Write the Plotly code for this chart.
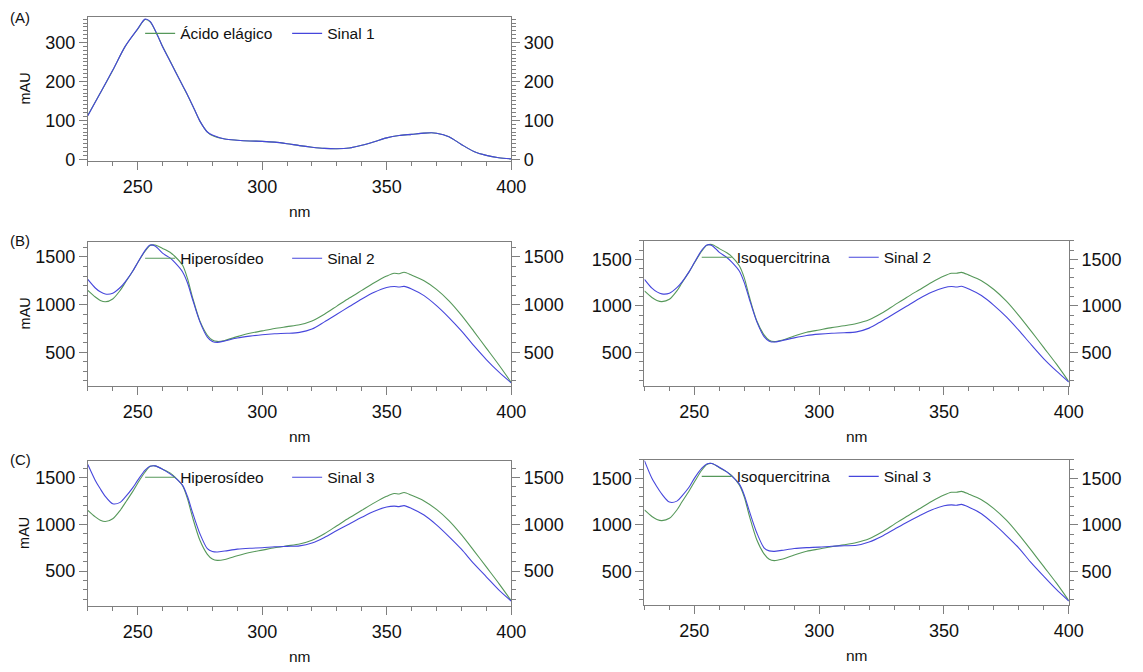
import plotly.graph_objects as go

# ---------------- data ----------------
WL_A = [230, 235, 240, 245, 250, 253, 255, 258, 260, 263, 265, 268, 270, 273, 275, 278,
        280, 285, 290, 295, 300, 305, 310, 315, 320, 325, 330, 335, 340, 345, 350, 355,
        360, 365, 368, 370, 375, 380, 385, 390, 395, 400]
ACIDO_ELAGICO = [113, 170, 228, 290, 334, 359, 353, 318, 290, 253, 228, 190, 165, 125, 98, 70,
                 61, 52, 49, 47, 46, 44, 40, 35, 31, 28, 27, 29, 36, 45, 55, 61,
                 64, 67, 68, 67, 58, 38, 20, 10, 4, 1]
SINAL_1 = [112, 170, 229, 290, 335, 360, 354, 318, 289, 252, 227, 190, 166, 125, 98, 70,
           62, 52, 49, 47, 46, 44, 40, 35, 31, 28, 27, 29, 36, 45, 55, 61,
           64, 67, 68, 67, 58, 38, 20, 10, 4, 1]

WL = [230, 233, 235, 237, 240, 243, 245, 248, 250, 253, 255, 257, 260, 263, 265, 268,
      270, 272, 275, 278, 280, 282, 285, 290, 295, 300, 305, 310, 315, 320, 325, 330,
      335, 340, 345, 350, 353, 355, 357, 360, 365, 370, 375, 380, 385, 390, 395, 400]

HIPEROSIDEO = [1150, 1080, 1045, 1030, 1060, 1150, 1230, 1350, 1440, 1560, 1620, 1625, 1590, 1550, 1505, 1415,
               1275, 1080, 830, 680, 630, 615, 625, 665, 700, 725, 750, 770, 790, 830, 900, 985,
               1070, 1150, 1230, 1300, 1330, 1325, 1340, 1310, 1250, 1160, 1040, 890, 720, 545, 370, 185]
SINAL_2_B1 = [1265, 1175, 1135, 1112, 1120, 1180, 1240, 1350, 1440, 1570, 1625, 1615, 1540, 1490, 1440, 1345,
              1230, 1060, 820, 660, 615, 605, 620, 650, 670, 685, 695, 700, 710, 745, 820, 900,
              980, 1060, 1130, 1180, 1190, 1185, 1192, 1165, 1095, 990, 865, 725, 570, 425, 295, 180]

ISOQUERCITRINA = [1160, 1090, 1058, 1045, 1070, 1160, 1245, 1370, 1460, 1590, 1650, 1660, 1615, 1570, 1530, 1430,
                  1300, 1100, 840, 685, 630, 615, 630, 675, 715, 740, 765, 785, 810, 850, 920, 1005,
                  1090, 1170, 1250, 1320, 1350, 1350, 1360, 1330, 1270, 1175, 1050, 895, 725, 550, 375, 185]
SINAL_2_B2 = [1285, 1190, 1150, 1128, 1135, 1195, 1255, 1370, 1465, 1600, 1655, 1650, 1575, 1520, 1470, 1375,
              1250, 1075, 830, 665, 620, 610, 625, 655, 680, 695, 705, 710, 720, 760, 835, 915,
              995, 1075, 1145, 1195, 1208, 1202, 1210, 1180, 1110, 1005, 880, 735, 580, 430, 300, 180]

SINAL_3_C1 = [1640, 1470, 1380, 1300, 1220, 1235, 1290, 1390, 1470, 1580, 1620, 1625, 1590, 1540, 1500, 1420,
              1300, 1130, 900, 740, 710, 705, 715, 735, 745, 750, 760, 765, 770, 800, 860, 935,
              1005, 1075, 1140, 1185, 1195, 1190, 1200, 1170, 1100, 995, 870, 735, 580, 440, 300, 180]
SINAL_3_C2 = [1690, 1500, 1410, 1330, 1245, 1255, 1310, 1410, 1500, 1610, 1655, 1660, 1620, 1570, 1525, 1440,
              1320, 1150, 915, 750, 720, 715, 725, 745, 755, 760, 770, 775, 780, 815, 875, 950,
              1025, 1095, 1160, 1205, 1215, 1210, 1220, 1190, 1120, 1010, 885, 750, 590, 445, 305, 180]

X_TICKS = [250, 300, 350, 400]
Y_TICKS_A = [0, 100, 200, 300]
Y_TICKS_BC = [500, 1000, 1500]

# ---------------- style ----------------
W, H = 1143, 672
GREEN = "#56985a"
BLUE = "#4646dc"
AXC = "#7f7f7f"
TXT = "#111111"
FONT = "Liberation Sans, Arial, sans-serif"


def px_x(p):
    return p / W


def px_y(p):
    return 1 - p / H


# panel boxes in pixels: (x0, x1, ytop, ybottom)
panels = [
    dict(box=(89, 518, 17, 163), yr=[-4, 366], ytk=Y_TICKS_A, ymin=10,
         g=(WL_A, ACIDO_ELAGICO, "Ácido elágico"), b=(WL_A, SINAL_1, "Sinal 1")),
    dict(box=(89, 518, 245, 391), yr=[150, 1660], ytk=Y_TICKS_BC, ymin=100,
         g=(WL, HIPEROSIDEO, "Hiperosídeo"), b=(WL, SINAL_2_B1, "Sinal 2")),
    dict(box=(653, 1083, 244, 391), yr=[140, 1700], ytk=Y_TICKS_BC, ymin=100,
         g=(WL, ISOQUERCITRINA, "Isoquercitrina"), b=(WL, SINAL_2_B2, "Sinal 2")),
    dict(box=(89, 518, 467, 614), yr=[130, 1680], ytk=Y_TICKS_BC, ymin=100,
         g=(WL, HIPEROSIDEO, "Hiperosídeo"), b=(WL, SINAL_3_C1, "Sinal 3")),
    dict(box=(653, 1083, 466, 613), yr=[140, 1700], ytk=Y_TICKS_BC, ymin=100,
         g=(WL, ISOQUERCITRINA, "Isoquercitrina"), b=(WL, SINAL_3_C2, "Sinal 3")),
]

fig = go.Figure()
layout = {}
annotations = []

for i, p in enumerate(panels):
    xi = i + 1
    yl = 2 * i + 1
    yr_ = 2 * i + 2
    xname = "x" if xi == 1 else f"x{xi}"
    ylname = "y" if yl == 1 else f"y{yl}"
    yrname = f"y{yr_}"
    lg = "legend" if i == 0 else f"legend{i + 1}"
    x0, x1, yt, yb = p["box"]

    # invisible copy on the right-hand axis so that axis is drawn
    fig.add_trace(go.Scatter(x=p["b"][0], y=p["b"][1], mode="lines",
                             line=dict(color="rgba(0,0,0,0)", width=0.5),
                             xaxis=xname, yaxis=yrname, showlegend=False,
                             hoverinfo="skip"))
    for (xs, ys, nm), col in ((p["g"], GREEN), (p["b"], BLUE)):
        fig.add_trace(go.Scatter(x=xs, y=ys, name=nm, mode="lines",
                                 line=dict(color=col, width=1.1, shape="spline", smoothing=0.8),
                                 xaxis=xname, yaxis=ylname, legend=lg,
                                 hoverinfo="skip"))

    tickfont = dict(family=FONT, size=18, color=TXT)
    layout["xaxis" if xi == 1 else f"xaxis{xi}"] = dict(
        domain=[px_x(x0), px_x(x1)], anchor=ylname, range=[230, 400],
        tickmode="array", tickvals=X_TICKS, ticks="outside", ticklen=8, tickcolor=AXC,
        showline=True, linecolor=AXC, linewidth=1, mirror=True, ticklabelstandoff=2,
        showgrid=False, zeroline=False, tickfont=tickfont,
        minor=dict(dtick=10, tick0=230, ticks="outside", ticklen=4, tickcolor=AXC, showgrid=False))
    yax = dict(range=p["yr"], tickmode="array", tickvals=p["ytk"], ticks="outside", ticklen=8,
               tickcolor=AXC, showline=True, linecolor=AXC, linewidth=1,
               showgrid=False, zeroline=False, tickfont=tickfont,
               minor=dict(dtick=p["ymin"], tick0=0, ticks="outside", ticklen=4,
                          tickcolor=AXC, showgrid=False))
    layout["yaxis" if yl == 1 else f"yaxis{yl}"] = dict(
        domain=[px_y(yb), px_y(yt)], anchor=xname, side="left", **yax)
    layout[f"yaxis{yr_}"] = dict(overlaying=ylname, anchor=xname, side="right", **yax)

    layout[lg] = dict(orientation="h", x=px_x(x0 + 53), y=px_y(yt),
                      xanchor="left", yanchor="top", bgcolor="rgba(0,0,0,0)",
                      font=dict(family=FONT, size=15.5, color=TXT),
                      borderwidth=0, itemwidth=30, entrywidth=102, entrywidthmode="pixels")

    # x axis title
    annotations.append(dict(text="nm", x=px_x((x0 + x1) / 2), y=px_y(yb + 51),
                            xref="paper", yref="paper", showarrow=False,
                            font=dict(family=FONT, size=15.5, color=TXT),
                            xanchor="center", yanchor="middle"))
    if x0 < 300:
        annotations.append(dict(text="mAU", x=px_x(25), y=px_y((yt + yb) / 2),
                                xref="paper", yref="paper", showarrow=False, textangle=-90,
                                font=dict(family=FONT, size=14.5, color=TXT),
                                xanchor="center", yanchor="middle"))

for lab, yy in (("(A)", 18), ("(B)", 244), ("(C)", 466)):
    annotations.append(dict(text=lab, x=px_x(8), y=px_y(yy), xref="paper", yref="paper",
                            showarrow=False, xanchor="left", yanchor="middle",
                            font=dict(family=FONT, size=15, color=TXT)))

fig.update_layout(width=W, height=H, margin=dict(l=0, r=0, t=0, b=0),
                  paper_bgcolor="white", plot_bgcolor="white",
                  font=dict(family=FONT, size=14, color=TXT),
                  annotations=annotations, **layout)

fig.write_html("out.html")
